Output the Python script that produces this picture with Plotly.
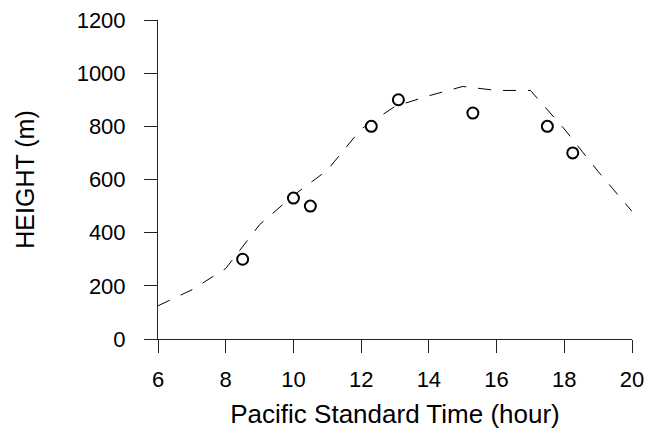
import plotly.graph_objects as go

# Model curve (dashed line)
line_time = [6, 7, 8, 9, 10, 11, 12, 13, 14, 15, 16, 17, 18, 19, 20]
line_height = [125, 185, 265, 430, 540, 635, 790, 875, 915, 950, 935, 935, 790, 630, 480]

# Observations (open circles)
obs_time = [8.5, 10.0, 10.5, 12.3, 13.1, 15.3, 17.5, 18.25]
obs_height = [300, 530, 500, 800, 900, 850, 800, 700]

x_ticks = [6, 8, 10, 12, 14, 16, 18, 20]
y_ticks = [0, 200, 400, 600, 800, 1000, 1200]

FONT = "Liberation Sans, Arial, sans-serif"

fig = go.Figure()
fig.add_trace(go.Scatter(
    x=line_time, y=line_height, mode="lines",
    line=dict(color="black", width=1, dash="13px,12px"),
    showlegend=False, hoverinfo="skip",
))
fig.add_trace(go.Scatter(
    x=obs_time, y=obs_height, mode="markers",
    marker=dict(symbol="circle", size=11, color="white",
                line=dict(color="black", width=2)),
    showlegend=False,
))

axis_common = dict(
    showgrid=False, zeroline=False, showline=True, automargin=False,
    linecolor="#222", linewidth=1,
    ticks="outside", ticklen=13, tickcolor="#222", tickwidth=1,
    tickfont=dict(family=FONT, size=22, color="black"),
)

fig.update_xaxes(
    range=[6, 20], tickvals=x_ticks, ticktext=[str(v) for v in x_ticks],
    title=dict(text="Pacific Standard Time (hour)",
               font=dict(family=FONT, size=26, color="black"), standoff=13),
    ticklabelstandoff=8,
    **axis_common,
)
fig.update_yaxes(
    range=[0, 1200], tickvals=y_ticks, ticktext=[str(v) for v in y_ticks],
    title=dict(text="HEIGHT (m)",
               font=dict(family=FONT, size=25, color="black"), standoff=34),
    ticklabelstandoff=14,
    **axis_common,
)

fig.update_layout(
    width=645, height=434,
    margin=dict(l=158, r=13, t=20, b=95),
    paper_bgcolor="white", plot_bgcolor="white",
    font=dict(family=FONT, color="black"),
)

fig.write_html(
    "out.html",
    config={"displayModeBar": False},
    post_script="document.body.style.margin='0';document.body.style.overflow='hidden';",
)
